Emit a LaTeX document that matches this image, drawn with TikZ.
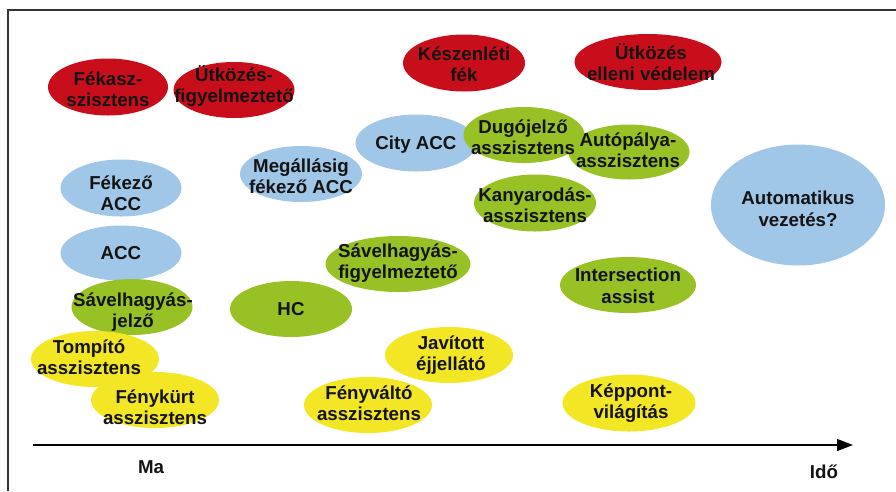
\documentclass[tikz,border=0pt]{standalone}
\usepackage{fontspec}
\setmainfont{Liberation Sans}
\usetikzlibrary{shapes.geometric,arrows.meta}
\definecolor{cred}{RGB}{200,14,26}
\definecolor{cblue}{RGB}{160,198,232}
\definecolor{cgreen}{RGB}{151,193,37}
\definecolor{cyellow}{RGB}{243,230,36}
\definecolor{ctext}{RGB}{20,20,20}
\begin{document}
\begin{tikzpicture}[x=1pt,y=-1pt,
  blob/.style={ellipse,inner sep=0pt,draw=none},
  rb/.style={blob,fill=cred},
  bb/.style={blob,fill=cblue},
  gb/.style={blob,fill=cgreen},
  yb/.style={blob,fill=cyellow},
  lbl/.style={align=center,text=ctext,inner sep=0pt,font=\fontsize{18.7}{21.5}\selectfont\bfseries},
  frame/.style={line width=1.3pt,black!80},
  axis/.style={line width=1.3pt,black,-{Triangle[length=16pt,width=12pt]}}
]
\useasboundingbox (0,0) rectangle (896,491);
\draw[frame] (8,491) -- (8,10) -- (896,10);

% red
\node[rb,minimum width=120pt,minimum height=57pt] (e1) at (108,87) {};
\node[rb,minimum width=121pt,minimum height=56pt] (e2) at (234,90) {};
\node[rb,minimum width=122pt,minimum height=57pt] (e3) at (464,63) {};
\node[rb,minimum width=147pt,minimum height=56pt] (e4) at (648,62) {};
% blue
\node[bb,minimum width=121pt,minimum height=57pt] (e5) at (416,143) {};
\node[bb,minimum width=122pt,minimum height=56pt] (e6) at (301,174) {};
\node[bb,minimum width=121pt,minimum height=57pt] (e7) at (121,188) {};
\node[bb,minimum width=121pt,minimum height=55pt] (e8) at (121,253) {};
\node[bb,minimum width=174pt,minimum height=121pt] (e9) at (798,205) {};
% green
\node[gb,minimum width=121pt,minimum height=56pt] (e10) at (524,135) {};
\node[gb,minimum width=121pt,minimum height=55pt] (e11) at (629,152) {};
\node[gb,minimum width=122pt,minimum height=57pt] (e12) at (535,203) {};
\node[gb,minimum width=145pt,minimum height=56pt] (e13) at (398,264) {};
\node[gb,minimum width=136pt,minimum height=56pt] (e14) at (628,285) {};
\node[gb,minimum width=122pt,minimum height=56pt] (e15) at (291,309) {};
\node[gb,minimum width=121pt,minimum height=56pt] (e16) at (132,307) {};
% yellow
\node[yb,minimum width=128pt,minimum height=56pt] (e17) at (95,359) {};
\node[yb,minimum width=128pt,minimum height=56pt] (e18) at (155,400) {};
\node[yb,minimum width=128pt,minimum height=56pt] (e19) at (449,355) {};
\node[yb,minimum width=128pt,minimum height=56pt] (e20) at (368,405) {};
\node[yb,minimum width=133pt,minimum height=57pt] (e21) at (629,403) {};

% labels
\node[lbl] (t1) at (108,89) {Fékasz-\\szisztens};
\node[lbl] (t2) at (234,86) {Ütközés-\\figyelmeztető};
\node[lbl] (t3) at (464,64) {Készenléti\\fék};
\node[lbl] (t4) at (651,62) {Ütközés\\elleni védelem};
\node[lbl] (t5) at (416,145) {City ACC};
\node[lbl] (t6) at (301,176) {Megállásig\\fékező ACC};
\node[lbl] (t7) at (121,193) {Fékező\\ACC};
\node[lbl] (t8) at (121,253) {ACC};
\node[lbl] (t9) at (798,209) {Automatikus\\vezetés?};
\node[lbl] (t10) at (523,137) {Dugójelző\\asszisztens};
\node[lbl] (t11) at (628,150) {Autópálya-\\asszisztens};
\node[lbl] (t12) at (535,205) {Kanyarodás-\\asszisztens};
\node[lbl] (t13) at (398,263) {Sávelhagyás-\\figyelmeztető};
\node[lbl] (t14) at (628,286) {Intersection\\assist};
\node[lbl] (t15) at (291,309) {HC};
\node[lbl] (t16) at (133,312) {Sávelhagyás-\\jelző};
\node[lbl] (t17) at (89,357) {Tompító\\asszisztens};
\node[lbl] (t18) at (155,407) {Fénykürt\\asszisztens};
\node[lbl] (t19) at (451,355) {Javított\\éjjellátó};
\node[lbl] (t20) at (369,403) {Fényváltó\\asszisztens};
\node[lbl] (t21) at (631,403) {Képpont-\\világítás};

% axis
\coordinate (axs) at (33,445);
\coordinate (axe) at (853,445);
\draw[axis] (axs) -- (axe);
\node[lbl] (ma) at (151,467) {Ma};
\node[lbl] (ido) at (824,472) {Idő};
\end{tikzpicture}
\end{document}
